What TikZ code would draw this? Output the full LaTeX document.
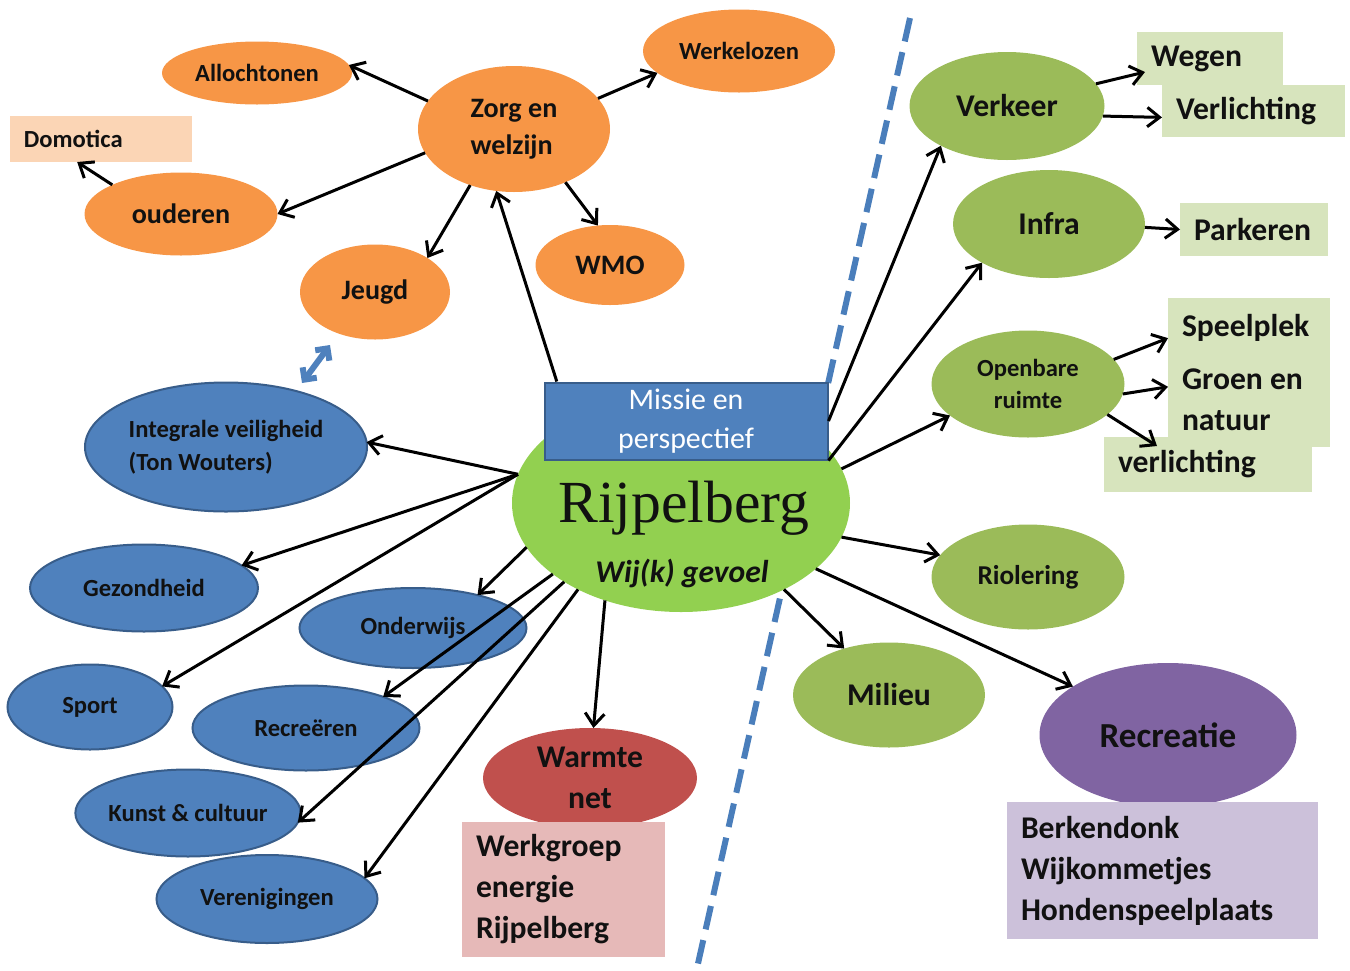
\documentclass[tikz,border=0pt]{standalone}
\usepackage{fontspec}
\setmainfont{Carlito}
\newfontfamily\serifr{Liberation Serif}
\usetikzlibrary{shapes.geometric,arrows.meta}
\newlength\pxu \setlength\pxu{0.02cm}
\definecolor{orng}{HTML}{F79646}
\definecolor{peach}{HTML}{FBD5B5}
\definecolor{bluf}{HTML}{4F81BD}
\definecolor{blue}{HTML}{385D8A}
\definecolor{dashb}{HTML}{4A7EBB}
\definecolor{grc}{HTML}{92D050}
\definecolor{grn}{HTML}{9BBB59}
\definecolor{grl}{HTML}{D7E4BD}
\definecolor{redn}{HTML}{C0504D}
\definecolor{pinkb}{HTML}{E6B9B8}
\definecolor{purp}{HTML}{8064A2}
\definecolor{lav}{HTML}{CCC1DA}
\definecolor{ink}{HTML}{111111}
\tikzset{
  sz/.style 2 args={minimum width=#1*\pxu, minimum height=#2*\pxu},
  ell/.style={ellipse, inner sep=0pt, outer sep=0pt, align=center, text=ink},
  orn/.style={ell, fill=orng},
  blu/.style={ell, fill=bluf, draw=blue, line width=2*\pxu},
  grn/.style={ell, fill=grn},
  boxw/.style 2 args={rectangle, outer sep=0pt, inner ysep=0pt, inner xsep=14*\pxu,
     text width=(#1-28)*\pxu, minimum height=#2*\pxu, align=flush left, text=ink},
  fa/.style={font=\bfseries\fontsize{14}{18.5}\selectfont},
  fb/.style={font=\bfseries\fontsize{16}{21}\selectfont},
  fc/.style={font=\bfseries\fontsize{18}{23.3}\selectfont},
  arr/.style={line width=3*\pxu, draw=black, -{Straight Barb[length=7pt,width=11pt]}},
  dashline/.style={draw=dashb, line width=6*\pxu, dash pattern=on 24*\pxu off 11*\pxu},
  dbl/.style={draw=bluf, line width=6*\pxu, {Straight Barb[length=5pt,width=10pt]}-{Straight Barb[length=5pt,width=10pt]}},
}
\begin{document}
\begin{tikzpicture}[x=0.02cm,y=-0.02cm]
\useasboundingbox (0,0) rectangle (1350,971);
% dividing line
\coordinate (dl1) at (910,18);
\coordinate (dl2) at (697,968);
\draw[dashline] (dl1) -- (dl2);

% centre
\node[ell, fill=grc, sz={338}{218}] (rij) at (681,503) {};
\node[anchor=base, text=ink, font=\serifr\fontsize{34}{40}\selectfont] (rijt) at (684,522) {Rijpelberg};
\node[anchor=base, text=ink, font=\bfseries\itshape\fontsize{18}{22}\selectfont] (wij) at (682,582) {Wij(k) gevoel};
\node[rectangle, draw=blue, fill=bluf, line width=2*\pxu, sz={283}{77}, inner sep=0pt, text=white,
      align=center, font=\fontsize{17}{22}\selectfont] (missie) at (686,421) {Missie en\\perspectief};

% zorg cluster
\node[orn, sz={192}{126}, fb, align=left] (zorg) at (514,129) {Zorg en\\welzijn};
\node[orn, sz={190}{63}, fa] (alloc) at (257,73) {Allochtonen};
\node[orn, sz={192}{83}, fa] (werk) at (739,51) {Werkelozen};
\node[orn, sz={193}{83}, fb] (oud) at (181,214) {ouderen};
\node[boxw={182}{46}, fill=peach, fa] (dom) at (101,139) {Domotica};
\node[orn, sz={149}{80}, fb] (wmo) at (610,265) {WMO};
\node[orn, sz={150}{95}, fb] (jeugd) at (375,292) {Jeugd};

% double arrow
\coordinate (da1) at (302,383);
\coordinate (da2) at (330,345);
\draw[dbl] (da1) -- (da2);

% blue cluster
\node[blu, sz={282}{129}, fa, align=left] (integ) at (226,447) {Integrale veiligheid\\(Ton Wouters)};
\node[blu, sz={228}{87}, fa] (gez) at (144,588) {Gezondheid};
\node[blu, sz={227}{80}, fa] (ond) at (413,628) {Onderwijs};
\node[blu, sz={165}{85}, fa] (sport) at (90,707) {Sport};
\node[blu, sz={227}{85}, fa] (recr) at (306,728) {Recreëren};
\node[blu, sz={225}{87}, fa] (kunst) at (188,813) {Kunst \& cultuur};
\node[blu, sz={221}{88}, fa] (ver) at (267,899) {Verenigingen};

% warmte
\node[ell, fill=redn, sz={214}{100}, fc] (warm) at (590,778) {Warmte\\net};
\node[boxw={203}{135}, fill=pinkb, fc] (werkg) at (563.5,889.5) {Werkgroep\\energie\\Rijpelberg};

% right side
\node[grn, sz={195}{108}, fc] (verkeer) at (1007,106) {Verkeer};
\node[boxw={146}{53}, fill=grl, fc] (wegen) at (1210,58.5) {Wegen};
\node[boxw={183}{52}, fill=grl, fc] (verl) at (1253.5,111) {Verlichting};
\node[grn, sz={192}{108}, fc] (infra) at (1049,224) {Infra};
\node[boxw={148}{53}, fill=grl, fc] (park) at (1254,229.5) {Parkeren};
\node[grn, sz={193}{107}, fa] (openb) at (1028,384) {Openbare\\ruimte};
\node[boxw={162}{149}, fill=grl, fc] (speel) at (1249,372.5) {Speelplek\\[7pt]Groen en\\natuur};
\node[boxw={208}{55}, fill=grl, fc] (verl2) at (1208,464.5) {verlichting};
\node[grn, sz={193}{105}, font=\bfseries\fontsize{15.5}{20}\selectfont] (riol) at (1028,577) {Riolering};
\node[grn, sz={192}{105}, fc] (milieu) at (889,695) {Milieu};
\node[ell, fill=purp, sz={257}{144}, font=\bfseries\fontsize{20}{24}\selectfont] (recreatie) at (1168,735) {Recreatie};
\node[boxw={311}{137}, fill=lav, fc] (berk) at (1162.5,870.5) {Berkendonk\\Wijkommetjes\\Hondenspeelplaats};

% free arrow ends inside boxes
\coordinate (wegtip) at (1145,72);
\coordinate (vl2tip) at (1157,446);

% connectors
\draw[arr] (zorg.162) -- (alloc.5);
\draw[arr] (zorg.195) -- (oud.east);
\draw[arr] (zorg.232) -- (jeugd.33);
\draw[arr] (zorg.314) -- (wmo.107);
\draw[arr] (zorg.20) -- (werk.195);
\draw[arr] (oud.157) -- (dom.224);
\draw[arr] (missie.163) -- (zorg.254);
\draw[arr] (rij.170) -- (integ.2);
\draw[arr] (rij.170) -- (gez.13);
\draw[arr] (rij.170) -- (sport.16);
\draw[arr] (rij.196) -- (ond.27);
\draw[arr] (rij.209) -- (recr.22);
\draw[arr] (rij.214) -- (kunst.355);
\draw[arr] (rij.220) -- (ver.12);
\draw[arr] (rij.232) -- (warm.86);
\draw[arr] (missie.east) -- (verkeer.211);
\draw[arr] (missie.south east) -- (infra.210);
\draw[arr] (rij.12) -- (openb.202);
\draw[arr] (rij.-12) -- (riol.166);
\draw[arr] (rij.320) -- (milieu.134);
\draw[arr] (rij.334) -- (recreatie.153);
\draw[arr] (verkeer.14) -- (wegtip);
\draw[arr] (verkeer.-6) -- (verl.184);
\draw[arr] (infra.-2) -- (park.180);
\draw[arr] (openb.16) -- (speel.157);
\draw[arr] (openb.-6) -- (speel.190);
\draw[arr] (openb.339) -- (vl2tip);
\end{tikzpicture}
\end{document}
